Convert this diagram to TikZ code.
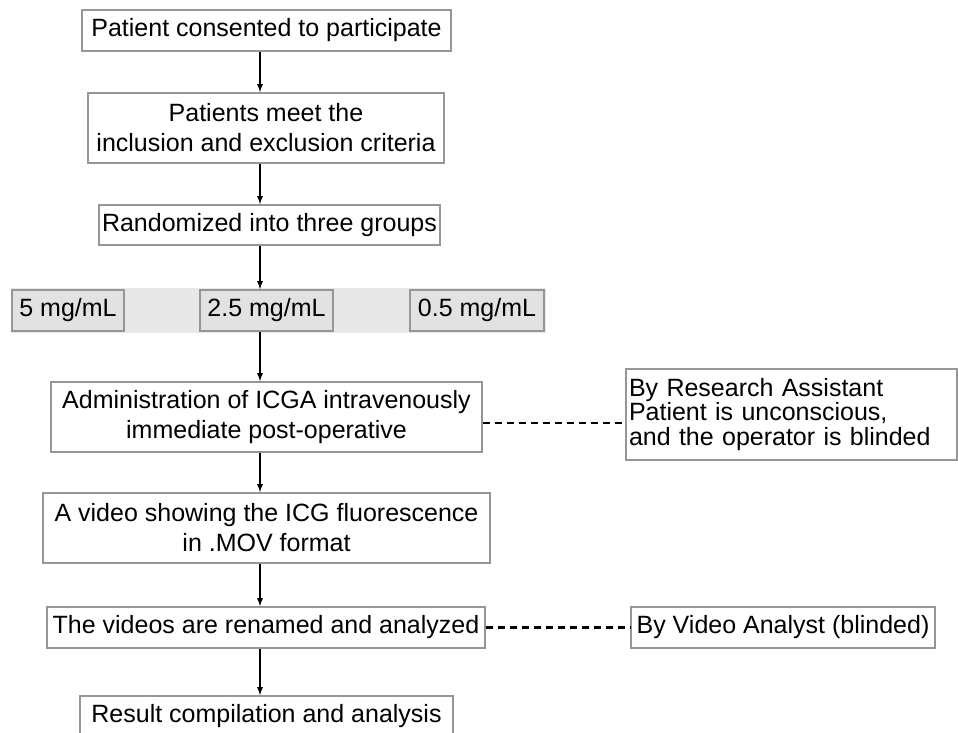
\documentclass[tikz,border=0pt]{standalone}
\usepackage{fontspec}
\setmainfont{Liberation Sans}
\usepackage{tikz}
\usetikzlibrary{calc, arrows}
\tikzset{>=latex}
\definecolor{myborder}{RGB}{150, 150, 150}
\definecolor{mygray}{RGB}{232, 232, 232}
\definecolor{mygray2}{RGB}{226, 226, 226}
\tikzset{
  flowbox/.style = {draw = myborder, line width = 1.8pt, fill = white, inner sep = 0pt,
    align = center, font = \fontsize{25}{30}\selectfont},
  dosebox/.style = {draw = myborder, line width = 1.8pt, fill = mygray2, inner sep = 0pt,
    minimum height = 41pt, font = \fontsize{25}{30}\selectfont},
  notebox/.style = {draw = myborder, line width = 1.8pt, fill = white, inner xsep = 3pt,
    align = left, font = \fontsize{25}{24.5}\selectfont},
  flowarrow/.style = {->, line width = 1.7pt},
  notelink/.style = {line width = 2.6pt, dash pattern = on 7pt off 5pt}
}

\begin{document}
\begin{tikzpicture}[x = 1pt, y = 1pt]
\useasboundingbox (0, 0) rectangle (958, 732);
\fill[mygray] (11, 399) rectangle (546, 444);
\coordinate (axis) at (260, 0);

\node[flowbox, minimum width = 369pt, minimum height = 41pt] (consent) at (266.5, 701.5) {Patient consented to participate};
\node[flowbox, minimum width = 356pt, minimum height = 70pt] (meet) at (266, 604) {Patients meet the\\inclusion and exclusion criteria};
\node[flowbox, minimum width = 341pt, minimum height = 40pt] (random) at (269.5, 507) {Randomized into three groups};

\node[dosebox, minimum width = 112pt] (high) at (68, 421.5) {5 mg/mL};
\node[dosebox, minimum width = 133pt] (mid) at (266.5, 421.5) {2.5 mg/mL};
\node[dosebox, minimum width = 134pt] (low) at (477, 421.5) {0.5 mg/mL};

\node[flowbox, minimum width = 431pt, minimum height = 70pt] (admin) at (266.5, 315) {Administration of ICGA intravenously\\immediate post-operative};
\node[flowbox, minimum width = 447pt, minimum height = 70pt] (video) at (266.5, 204) {A video showing the ICG fluorescence\\in .MOV format};
\node[flowbox, minimum width = 438pt, minimum height = 41pt] (renamed) at (266, 104.5) {The videos are renamed and analyzed};
\node[flowbox, minimum width = 373pt, minimum height = 41pt] (result) at (266.5, 15.5) {Result compilation and analysis};

\node[notebox, text width = 325pt, minimum height = 91pt] (assist) at (791.5, 317.5) {By Research Assistant\\Patient is unconscious,\\and the operator is blinded};
\node[notebox, minimum width = 304pt, minimum height = 41pt, align = center] (analyst) at (783, 104.5) {By Video Analyst (blinded)};

\draw[flowarrow] (consent.south -| axis) -- (meet.north -| axis);
\draw[flowarrow] (meet.south -| axis) -- (random.north -| axis);
\draw[flowarrow] (random.south -| axis) -- (mid.north -| axis);
\draw[flowarrow] (mid.south -| axis) -- (admin.north -| axis);
\draw[flowarrow] (admin.south -| axis) -- (video.north -| axis);
\draw[flowarrow] (video.south -| axis) -- (renamed.north -| axis);
\draw[flowarrow] (renamed.south -| axis) -- (result.north -| axis);

\draw[notelink] ($(admin.east) + (0, -6)$) -- ($(admin.east -| assist.west) + (0, -6)$);
\draw[notelink] (renamed.east) -- (renamed.east -| analyst.west);
\end{tikzpicture}
\end{document}
